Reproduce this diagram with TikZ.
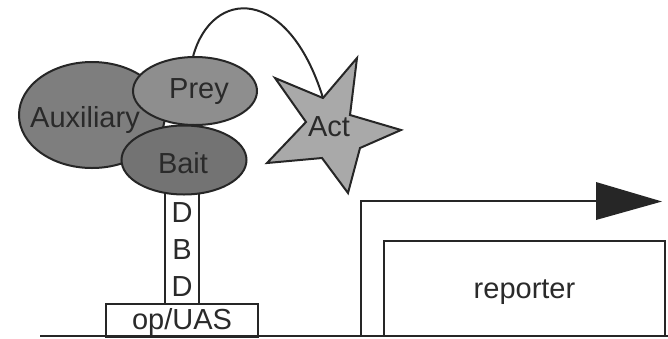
\documentclass[tikz,border=0pt]{standalone}
\usepackage{fontspec}
\setmainfont{Liberation Sans}
\usetikzlibrary{shapes.geometric}
\definecolor{linec}{HTML}{262626}
\definecolor{txtc}{HTML}{2A2A2A}
\definecolor{auxc}{HTML}{7E7E7E}
\definecolor{preyc}{HTML}{8E8E8E}
\definecolor{baitc}{HTML}{737373}
\definecolor{starc}{HTML}{A9A9A9}
\begin{document}
\begin{tikzpicture}[x=1pt,y=-1pt,
  lab/.style={text=txtc,font=\fontsize{29}{33}\selectfont},
  blob/.style={ellipse,draw=linec,line width=2pt,inner sep=0pt},
  boxw/.style={rectangle,draw=linec,line width=2pt,fill=white,inner sep=0pt},
  wire/.style={draw=linec,line width=2pt}]
\useasboundingbox (0,0) rectangle (668,338);
% ellipses
\node[blob,fill=auxc,minimum width=146pt,minimum height=106pt] (aux) at (92,115) {};
\node[boxw,minimum width=34pt,minimum height=112pt] (dbd) at (182,249) {};
\node[blob,fill=preyc,minimum width=124pt,minimum height=68pt] (prey) at (195,91) {};
\node[blob,fill=baitc,minimum width=125pt,minimum height=69pt] (bait) at (184,160) {};
\node[lab] at (aux.center) [xshift=-7pt,yshift=-5pt] {Auxiliary};
\node[lab] at (prey.center) [xshift=4pt,yshift=-1pt] {Prey};
\node[lab] at (bait.center) [xshift=-1pt,yshift=-3pt] {Bait};
\node[lab] at (182,213) {D};
\node[lab] at (182,250) {B};
\node[lab] at (182,287) {D};
% op/UAS
\node[boxw,minimum width=152pt,minimum height=33pt] (op) at (182,320.5) {};
\node[lab] at (op.center) [yshift=-1pt] {op/UAS};
% star
\coordinate (sA) at (357,58);
\coordinate (sB) at (350,115);
\coordinate (sC) at (401,130);
\coordinate (sD) at (360,148);
\coordinate (sE) at (348,193);
\coordinate (sF) at (322,158);
\coordinate (sG) at (267,163);
\coordinate (sH) at (306,122);
\coordinate (sI) at (275,78);
\coordinate (sJ) at (323,98);
\draw[wire,fill=starc,line join=miter] (sA)--(sB)--(sC)--(sD)--(sE)--(sF)--(sG)--(sH)--(sI)--(sJ)--cycle;
\node[lab] (act) at (329,127) {Act};
% arc
\draw[wire] (prey.93) .. controls (212,-12) and (288,-15) .. (sJ);
% reporter
\node[boxw,minimum width=281pt,minimum height=95pt] (rep) at (524.5,288.5) {};
\node[lab] at (rep.center) [yshift=-4pt] {reporter};
% baseline
\coordinate (bl) at (40,336);
\coordinate (br) at (668,336);
\draw[wire,line width=2.5pt] (bl) -- (br);
% promoter arrow
\coordinate (p0) at (361,336);
\coordinate (p1) at (361,201);
\coordinate (p2) at (598,201);
\draw[wire] (p0) -- (p1) -- (p2);
\fill[linec] (596,182) -- (662,201.5) -- (596,220) -- cycle;
\end{tikzpicture}
\end{document}
